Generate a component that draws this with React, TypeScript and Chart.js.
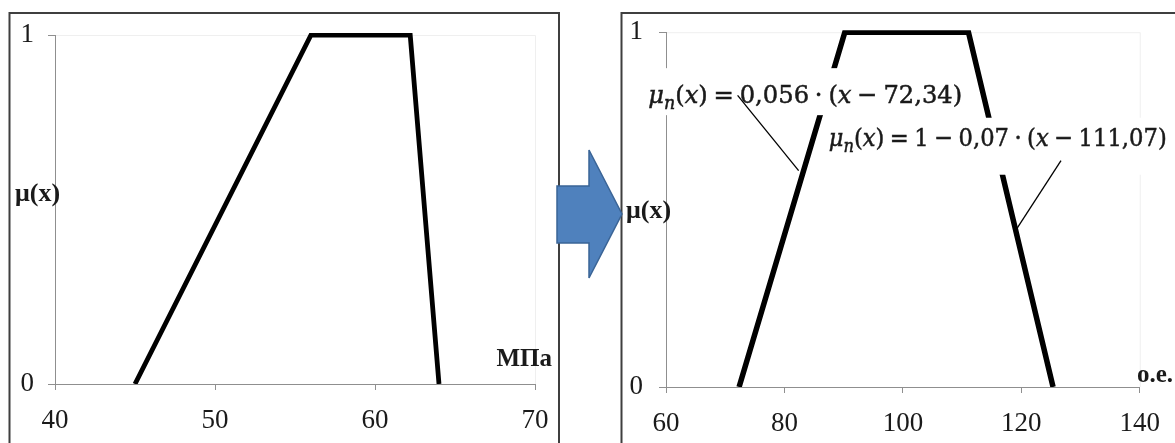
import React, { useEffect, useRef } from 'react';
import { Chart, registerables } from 'chart.js';

Chart.register(...registerables);

// ---- data ----
const LEFT_X = [45, 56, 62.2, 64];
const LEFT_MU = [0, 1, 1, 0];
const LEFT_X_TICKS = [40, 50, 60, 70];

const RIGHT_X = [72.34, 90.2, 111.07, 125.36];
const RIGHT_MU = [0, 1, 1, 0];
const RIGHT_X_TICKS = [60, 80, 100, 120, 140];

const Y_TICKS = [0, 1];
const Y_TITLE = 'μ(x)';
const LEFT_UNIT = 'МПа';
const RIGHT_UNIT = 'о.е.';

const FORMULA_RISE = 'μ_n(x) = 0,056 · (x − 72,34)';
const FORMULA_FALL = 'μ_n(x) = 1 − 0,07 · (x − 111,07)';

// annotation anchors (data units of the right chart)
const FORMULA_RISE_AT = { x: 57.0, y: 0.8 };
const FORMULA_FALL_AT = { x: 87.48, y: 0.68 };
const LEADER_RISE = [{ x: 72.09, y: 0.822 }, { x: 82.4, y: 0.61 }];
const LEADER_FALL = [{ x: 126.7, y: 0.638 }, { x: 119.0, y: 0.44 }];

const SERIF = '"Liberation Serif", "Times New Roman", serif';
const TEXT = '#1a1a1a';
const AXIS = '#8f8f8f';

function drawFormula(ctx: CanvasRenderingContext2D, text: string, x: number, baseline: number, targetW: number, size: number) {
  const fam = '"DejaVu Serif", serif';
  const parts: { t: string; font: string; dy: number; w: number }[] = [];
  for (let i = 0; i < text.length; i++) {
    const c = text[i];
    if (c === '_') {
      const n = text[++i];
      const font = `italic ${Math.round(size * 0.72)}px ${fam}`;
      ctx.font = font;
      parts.push({ t: n, font, dy: size * 0.24, w: ctx.measureText(n).width });
      continue;
    }
    if (c === ' ') {
      parts.push({ t: '', font: '', dy: 0, w: size * 0.24 });
      continue;
    }
    const it = /[a-zμ]/.test(c);
    const font = `${it ? 'italic ' : ''}${size}px ${fam}`;
    ctx.font = font;
    parts.push({ t: c, font, dy: 0, w: ctx.measureText(c).width });
  }
  const total = parts.reduce((s, p) => s + p.w, 0);
  const k = targetW / total;
  ctx.save();
  ctx.translate(x, baseline);
  ctx.scale(k, 1);
  ctx.fillStyle = TEXT;
  ctx.strokeStyle = TEXT;
  ctx.lineWidth = 0.5;
  ctx.textBaseline = 'alphabetic';
  ctx.textAlign = 'left';
  let cx = 0;
  for (const p of parts) {
    if (p.t) {
      ctx.font = p.font;
      ctx.fillText(p.t, cx, p.dy);
      ctx.strokeText(p.t, cx, p.dy);
    }
    cx += p.w;
  }
  ctx.restore();
}

interface PanelOpts {
  xs: number[];
  mus: number[];
  xTicks: number[];
  width: number;
  height: number;
  area: { left: number; right: number; top: number; bottom: number };
  lineWidth: number;
  yTickPad: number;
  frameLeft: number;
  frameRight: number;
  title: { x: number; y: number };
  unit: { text: string; x: number; y: number; align: CanvasTextAlign };
  annotate?: (chart: any) => void;
}

function buildConfig(o: PanelOpts): any {
  const panelPlugin = {
    id: 'panel',
    beforeDraw(chart: any) {
      const ctx = chart.ctx as CanvasRenderingContext2D;
      ctx.save();
      ctx.fillStyle = '#ffffff';
      ctx.fillRect(0, 0, chart.width, chart.height);
      ctx.strokeStyle = '#3f3f3f';
      ctx.lineWidth = 2;
      ctx.strokeRect(o.frameLeft, 13, o.frameRight - o.frameLeft, 600);
      const a = chart.chartArea;
      ctx.strokeStyle = '#efefef';
      ctx.lineWidth = 1;
      ctx.beginPath();
      ctx.moveTo(a.left, a.top + 0.5);
      ctx.lineTo(a.right + 0.5, a.top + 0.5);
      ctx.lineTo(a.right + 0.5, a.bottom);
      ctx.stroke();
      ctx.restore();
    },
    afterDatasetsDraw(chart: any) {
      if (o.annotate) o.annotate(chart);
    },
    afterDraw(chart: any) {
      const ctx = chart.ctx as CanvasRenderingContext2D;
      ctx.save();
      ctx.fillStyle = TEXT;
      ctx.font = `bold 26px ${SERIF}`;
      ctx.textAlign = 'left';
      ctx.textBaseline = 'middle';
      ctx.fillText(Y_TITLE, o.title.x, o.title.y);
      ctx.font = `bold 25px ${SERIF}`;
      ctx.textAlign = o.unit.align;
      ctx.textBaseline = 'alphabetic';
      ctx.fillText(o.unit.text, o.unit.x, o.unit.y);
      ctx.restore();
    },
  };

  return {
    type: 'scatter',
    data: {
      datasets: [
        {
          data: o.xs.map((x, i) => ({ x, y: o.mus[i] })),
          showLine: true,
          borderColor: '#000000',
          backgroundColor: '#000000',
          borderWidth: o.lineWidth,
          borderJoinStyle: 'miter',
          borderCapStyle: 'butt',
          pointRadius: 0,
          tension: 0,
          clip: { left: 10, top: 2, right: 10, bottom: 0 },
        },
      ],
    },
    options: {
      responsive: false,
      animation: false,
      events: [],
      layout: {
        padding: { left: 0, top: o.area.top, right: o.width - o.area.right, bottom: 0 },
      },
      plugins: { legend: { display: false }, tooltip: { enabled: false } },
      scales: {
        x: {
          type: 'linear',
          min: o.xTicks[0],
          max: o.xTicks[o.xTicks.length - 1],
          afterBuildTicks: (s: any) => {
            s.ticks = o.xTicks.map((v) => ({ value: v }));
          },
          afterFit: (s: any) => {
            s.height = o.height - o.area.bottom;
          },
          border: { display: true, color: AXIS, width: 1 },
          grid: { display: true, drawOnChartArea: false, drawTicks: true, tickLength: 6, color: AXIS },
          ticks: {
            color: TEXT,
            font: { family: SERIF, size: 27 },
            padding: 15,
            maxRotation: 0,
            autoSkip: false,
          },
        },
        y: {
          type: 'linear',
          min: 0,
          max: 1,
          afterBuildTicks: (s: any) => {
            s.ticks = Y_TICKS.map((v) => ({ value: v }));
          },
          afterFit: (s: any) => {
            s.width = o.area.left;
          },
          border: { display: true, color: AXIS, width: 1 },
          grid: { display: true, drawOnChartArea: false, drawTicks: true, tickLength: 7, color: AXIS },
          ticks: {
            color: TEXT,
            font: { family: SERIF, size: 27 },
            padding: o.yTickPad,
            autoSkip: false,
          },
        },
      },
    },
    plugins: [panelPlugin],
  };
}

function annotateRight(chart: any) {
  const ctx = chart.ctx as CanvasRenderingContext2D;
  const sx = chart.scales.x;
  const sy = chart.scales.y;
  const px = (v: number) => sx.getPixelForValue(v);
  const py = (v: number) => sy.getPixelForValue(v);

  const f1x = px(FORMULA_RISE_AT.x);
  const f1y = py(FORMULA_RISE_AT.y);
  const f2x = px(FORMULA_FALL_AT.x);
  const f2y = py(FORMULA_FALL_AT.y);

  ctx.save();
  ctx.fillStyle = '#ffffff';
  ctx.fillRect(f1x - 5, f1y - 35, 325, 47);
  ctx.fillRect(f2x - 4, f2y - 28, 360, 57);
  ctx.restore();

  drawFormula(ctx, FORMULA_RISE, f1x, f1y, 314, 25);
  drawFormula(ctx, FORMULA_FALL, f2x, f2y, 338, 25);

  ctx.save();
  ctx.strokeStyle = '#000000';
  ctx.lineWidth = 1.3;
  for (const L of [LEADER_RISE, LEADER_FALL]) {
    ctx.beginPath();
    ctx.moveTo(px(L[0].x), py(L[0].y));
    ctx.lineTo(px(L[1].x), py(L[1].y));
    ctx.stroke();
  }
  ctx.restore();
}

export default function App() {
  const leftRef = useRef<HTMLCanvasElement>(null);
  const rightRef = useRef<HTMLCanvasElement>(null);

  useEffect(() => {
    const left = new Chart(
      leftRef.current as HTMLCanvasElement,
      buildConfig({
        xs: LEFT_X,
        mus: LEFT_MU,
        xTicks: LEFT_X_TICKS,
        width: 600,
        height: 443,
        area: { left: 55, right: 535, top: 35, bottom: 384 },
        lineWidth: 4.8,
        yTickPad: 14,
        frameLeft: 9.5,
        frameRight: 559,
        title: { x: 15, y: 194 },
        unit: { text: LEFT_UNIT, x: 552, y: 366, align: 'right' },
      })
    );
    const right = new Chart(
      rightRef.current as HTMLCanvasElement,
      buildConfig({
        xs: RIGHT_X,
        mus: RIGHT_MU,
        xTicks: RIGHT_X_TICKS,
        width: 575,
        height: 443,
        area: { left: 66, right: 549, top: 28, bottom: 387 },
        lineWidth: 5.5,
        yTickPad: 16,
        frameLeft: 21.5,
        frameRight: 1000,
        title: { x: 26, y: 211 },
        unit: { text: RIGHT_UNIT, x: 537, y: 382, align: 'left' },
        annotate: annotateRight,
      })
    );
    return () => {
      left.destroy();
      right.destroy();
    };
  }, []);

  return (
    <div
      style={{
        position: 'absolute',
        left: 0,
        top: 0,
        width: 1175,
        height: 443,
        background: '#ffffff',
        overflow: 'hidden',
      }}
    >
      <canvas ref={leftRef} width={600} height={443} style={{ position: 'absolute', left: 0, top: 0, display: 'block' }} />
      <canvas ref={rightRef} width={575} height={443} style={{ position: 'absolute', left: 600, top: 0, display: 'block' }} />
      <svg
        width={1175}
        height={443}
        style={{ position: 'absolute', left: 0, top: 0, pointerEvents: 'none' }}
      >
        <polygon
          points="557,186 589,186 589,150 622,214 589,278 589,243 557,243"
          fill="#4F81BD"
          stroke="#3A6496"
          strokeWidth={1.5}
          strokeLinejoin="miter"
        />
      </svg>
    </div>
  );
}
